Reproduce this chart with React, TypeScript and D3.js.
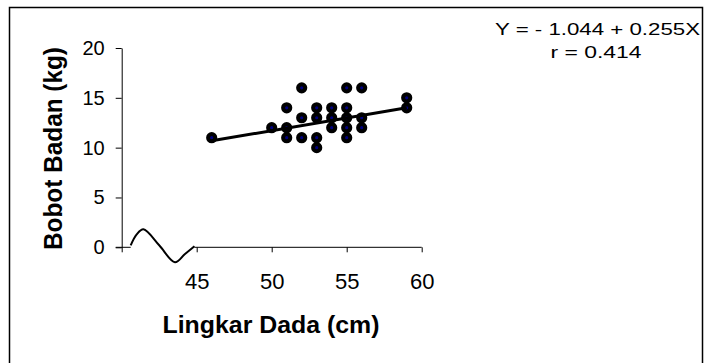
import { useEffect, useRef } from 'react';
import * as d3 from 'd3';

// Lingkar dada (cm) vs bobot badan (kg)
const lingkar = [46, 50, 51, 51, 51, 52, 52, 52, 53, 53, 53, 53, 54, 54, 54, 55, 55, 55, 55, 55, 56, 56, 56, 59, 59];
const bobot = [11, 12, 14, 12, 11, 16, 13, 11, 14, 13, 11, 10, 14, 13, 12, 16, 14, 13, 12, 11, 16, 13, 12, 15, 14];

const intercept = -1.044;
const slope = 0.255;
const lineRange = [46, 59];

const xTicks = [40, 45, 50, 55, 60];
const yTicks = [0, 5, 10, 15, 20];

// axis break squiggle between 40 and 45 (data units)
const breakX = [40.6, 41.0, 41.45, 42.5, 43.55, 44.2, 44.85];
const breakY = [0.2, 1.3, 1.8, 0.2, -1.5, -0.7, 0.1];

const FONT = "Arial, 'Liberation Sans', sans-serif";

const App = () => {
  const svgRef = useRef<SVGSVGElement>(null);

  useEffect(() => {
    const width = 704;
    const height = 363;

    const svg = d3
      .select(svgRef.current)
      .attr('width', width)
      .attr('height', height)
      .attr('viewBox', [0, 0, width, height]);
    svg.selectAll('*').remove();

    const x = d3.scaleLinear([40, 60], [121.7, 421.7]);
    const y = d3.scaleLinear([0, 20], [247.3, 48]);

    // outer frame
    svg
      .append('rect')
      .attr('x', 9.5)
      .attr('y', 7.5)
      .attr('width', 693)
      .attr('height', 380)
      .attr('fill', 'white')
      .attr('stroke', '#000')
      .attr('stroke-width', 1.5);

    // y axis
    const gy = svg
      .append('g')
      .attr('transform', `translate(${x(40)},0)`)
      .call(d3.axisLeft(y).tickValues(yTicks).tickSize(6).tickSizeOuter(0).tickPadding(11));
    gy.select('.domain').attr('stroke', '#000');
    gy.selectAll('.tick line').attr('stroke', '#000');
    gy.selectAll('.tick text')
      .attr('font-family', FONT)
      .attr('font-size', 20)
      .attr('fill', '#000');

    // x axis (broken between 40 and 45)
    const gx = svg
      .append('g')
      .attr('transform', `translate(0,${y(0)})`)
      .call(
        d3
          .axisBottom(x)
          .tickValues(xTicks)
          .tickSize(5)
          .tickPadding(21)
          .tickFormat((d) => (d === 40 ? '' : String(d)))
      );
    gx.select('.domain').remove();
    gx.selectAll('.tick line').attr('stroke', '#000');
    gx.selectAll('.tick text')
      .attr('font-family', FONT)
      .attr('font-size', 22)
      .attr('fill', '#000');

    svg
      .append('line')
      .attr('x1', x(40) - 6)
      .attr('x2', x(breakX[0]))
      .attr('y1', y(0))
      .attr('y2', y(0))
      .attr('stroke', '#000');
    svg
      .append('line')
      .attr('x1', x(44.85))
      .attr('x2', x(60))
      .attr('y1', y(0))
      .attr('y2', y(0))
      .attr('stroke', '#000');

    const squiggle = d3
      .line<number>()
      .x((d) => x(d))
      .y((d, i) => y(breakY[i]))
      .curve(d3.curveCatmullRom);
    svg
      .append('path')
      .attr('d', squiggle(breakX))
      .attr('fill', 'none')
      .attr('stroke', '#000')
      .attr('stroke-width', 2);

    // points
    svg
      .append('g')
      .selectAll('circle')
      .data(lingkar)
      .join('circle')
      .attr('cx', (d) => x(d))
      .attr('cy', (d, i) => y(bobot[i]))
      .attr('r', 3.6)
      .attr('fill', '#000080')
      .attr('stroke', '#000')
      .attr('stroke-width', 4);

    // regression line
    const reg = d3
      .line<number>()
      .x((d) => x(d))
      .y((d) => y(intercept + slope * d));
    svg
      .append('path')
      .attr('d', reg(lineRange))
      .attr('fill', 'none')
      .attr('stroke', '#000')
      .attr('stroke-width', 3);

    // axis titles
    svg
      .append('text')
      .attr('x', 271)
      .attr('y', 333)
      .attr('text-anchor', 'middle')
      .attr('font-family', FONT)
      .attr('font-weight', 'bold')
      .attr('font-size', 23)
      .attr('textLength', 217)
      .attr('lengthAdjust', 'spacingAndGlyphs')
      .text('Lingkar Dada (cm)');

    svg
      .append('text')
      .attr('transform', `translate(62,148.5) rotate(-90)`)
      .attr('text-anchor', 'middle')
      .attr('font-family', FONT)
      .attr('font-weight', 'bold')
      .attr('font-size', 25)
      .attr('textLength', 203)
      .attr('lengthAdjust', 'spacingAndGlyphs')
      .text('Bobot Badan (kg)');

    // equation
    svg
      .append('text')
      .attr('x', 597.5)
      .attr('y', 35)
      .attr('text-anchor', 'middle')
      .attr('font-family', FONT)
      .attr('font-size', 17)
      .attr('textLength', 205)
      .attr('lengthAdjust', 'spacingAndGlyphs')
      .text('Y = - 1.044 + 0.255X');
    svg
      .append('text')
      .attr('x', 596)
      .attr('y', 58.3)
      .attr('text-anchor', 'middle')
      .attr('font-family', FONT)
      .attr('font-size', 17)
      .attr('textLength', 91)
      .attr('lengthAdjust', 'spacingAndGlyphs')
      .text('r = 0.414');
  }, []);

  return <svg ref={svgRef} style={{ position: 'absolute', left: 0, top: 0, display: 'block' }}></svg>;
};

export default App;
